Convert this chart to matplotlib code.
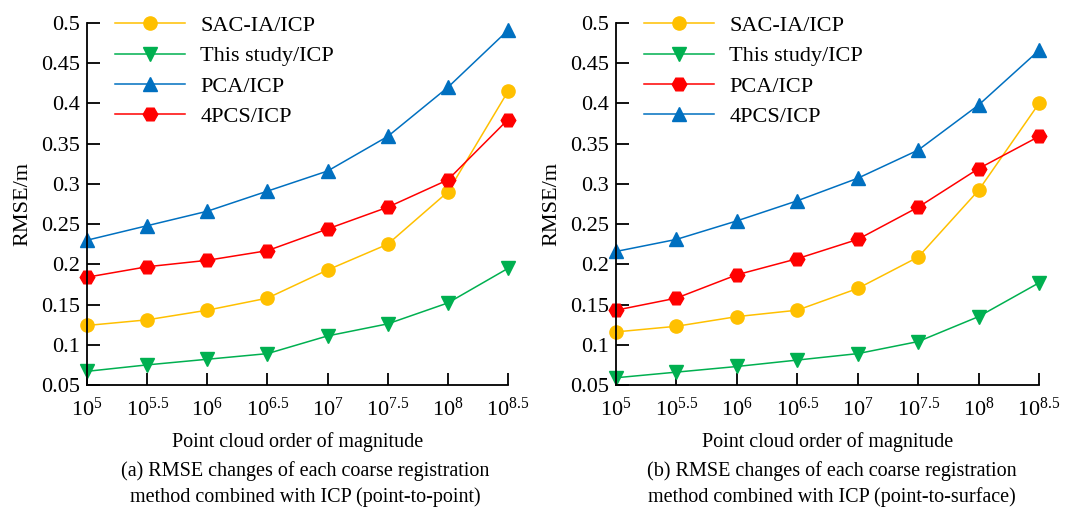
import matplotlib
matplotlib.use("Agg")
import matplotlib.pyplot as plt

plt.rcParams['font.family'] = ['Liberation Serif', 'DejaVu Serif']
plt.rcParams['mathtext.fontset'] = 'custom'
plt.rcParams['mathtext.rm'] = 'Liberation Serif'
plt.rcParams['mathtext.it'] = 'Liberation Serif:italic'

exponents = [5, 5.5, 6, 6.5, 7, 7.5, 8, 8.5]
tick_labels = [r'$10^{5}$', r'$10^{5.5}$', r'$10^{6}$', r'$10^{6.5}$',
               r'$10^{7}$', r'$10^{7.5}$', r'$10^{8}$', r'$10^{8.5}$']
yticks = [0.05, 0.1, 0.15, 0.2, 0.25, 0.3, 0.35, 0.4, 0.45, 0.5]
ytick_labels = ['0.05', '0.1', '0.15', '0.2', '0.25', '0.3', '0.35', '0.4', '0.45', '0.5']

# (a) point-to-point
a_sac = [0.124, 0.131, 0.143, 0.158, 0.193, 0.225, 0.290, 0.415]
a_this = [0.067, 0.075, 0.082, 0.089, 0.111, 0.126, 0.152, 0.195]
a_pca = [0.230, 0.248, 0.266, 0.291, 0.316, 0.359, 0.420, 0.491]
a_4pcs = [0.184, 0.197, 0.205, 0.217, 0.244, 0.271, 0.305, 0.380]

# (b) point-to-surface
b_sac = [0.116, 0.123, 0.135, 0.143, 0.170, 0.209, 0.292, 0.400]
b_this = [0.059, 0.066, 0.073, 0.081, 0.089, 0.104, 0.135, 0.177]
b_pca = [0.143, 0.158, 0.187, 0.207, 0.231, 0.271, 0.319, 0.359]
b_4pcs = [0.216, 0.231, 0.254, 0.279, 0.307, 0.342, 0.398, 0.466]

ORANGE = '#FFC000'
GREEN = '#00B050'
BLUE = '#0070C0'
RED = '#FF0000'

xlabel = 'Point cloud order of magnitude'
ylabel = 'RMSE/m'
caption_a = '(a) RMSE changes of each coarse registration\nmethod combined with ICP (point-to-point)'
caption_b = '(b) RMSE changes of each coarse registration\nmethod combined with ICP (point-to-surface)'

fig = plt.figure(figsize=(10.77, 5.13), dpi=100)
W, H = 1077, 513
ax_a = fig.add_axes([87 / W, (H - 385) / H, 421 / W, 362 / H])
ax_b = fig.add_axes([616 / W, (H - 385) / H, 423 / W, 362 / H])

FS = 16
FS_LAB = 14.5
lw = 1.1
ms = 9.5

def style(ax):
    ax.set_xlim(5, 8.5)
    ax.set_ylim(0.05, 0.5)
    ax.set_xticks(exponents)
    ax.set_xticklabels(tick_labels, fontsize=FS)
    ax.set_yticks(yticks)
    ax.set_yticklabels(ytick_labels, fontsize=FS)
    ax.spines['top'].set_visible(False)
    ax.spines['right'].set_visible(False)
    for s in ['left', 'bottom']:
        ax.spines[s].set_linewidth(1.3)
    ax.tick_params(axis='both', direction='in', length=9, width=1.3)
    ax.tick_params(axis='y', pad=5)
    ax.tick_params(axis='x', pad=9)
    ax.set_ylabel(ylabel, fontsize=FS, labelpad=6)
    ax.set_xlabel(xlabel, fontsize=FS_LAB, labelpad=8)
    for lbl in ax.get_xticklabels() + ax.get_yticklabels():
        lbl.set_clip_on(False)
    ax.legend(loc='upper left', bbox_to_anchor=(0.045, 1.045), frameon=False,
              fontsize=FS, handlelength=3.15, handletextpad=0.7,
              labelspacing=0.44, borderaxespad=0)

ax_a.plot(exponents, a_sac, color=ORANGE, marker='o', ms=ms, lw=lw, label='SAC-IA/ICP', clip_on=False)
ax_a.plot(exponents, a_this, color=GREEN, marker='v', ms=ms, lw=lw, label='This study/ICP', clip_on=False)
ax_a.plot(exponents, a_pca, color=BLUE, marker='^', ms=ms, lw=lw, label='PCA/ICP', clip_on=False)
ax_a.plot(exponents, a_4pcs, color=RED, marker='H', ms=ms + 1, lw=lw, label='4PCS/ICP', clip_on=False)
style(ax_a)

ax_b.plot(exponents, b_sac, color=ORANGE, marker='o', ms=ms, lw=lw, label='SAC-IA/ICP', clip_on=False)
ax_b.plot(exponents, b_this, color=GREEN, marker='v', ms=ms, lw=lw, label='This study/ICP', clip_on=False)
ax_b.plot(exponents, b_pca, color=RED, marker='H', ms=ms + 1, lw=lw, label='PCA/ICP', clip_on=False)
ax_b.plot(exponents, b_4pcs, color=BLUE, marker='^', ms=ms, lw=lw, label='4PCS/ICP', clip_on=False)
style(ax_b)

fig.text(305 / W, 1 - 484 / H, caption_a, ha='center', va='center', fontsize=FS_LAB, linespacing=1.45)
fig.text(832 / W, 1 - 484 / H, caption_b, ha='center', va='center', fontsize=FS_LAB, linespacing=1.45)

fig.savefig('out.png', dpi=100)
